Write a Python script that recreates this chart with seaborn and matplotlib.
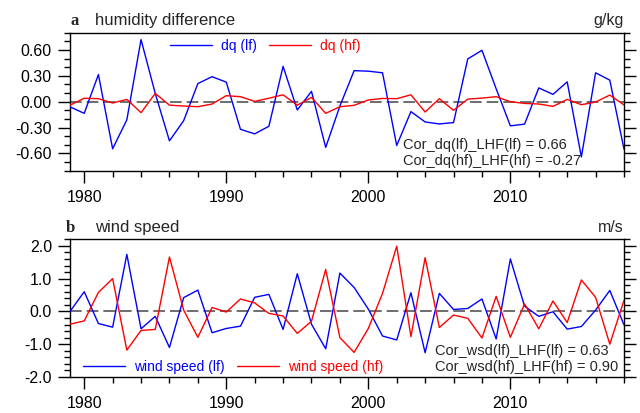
import matplotlib
matplotlib.use("Agg")
import matplotlib.pyplot as plt
import seaborn as sns
import pandas as pd
from matplotlib.ticker import MultipleLocator, FixedLocator

years = list(range(1979, 2019))

dq_lf = [-0.06, -0.135, 0.315, -0.546, -0.21, 0.72, 0.096, -0.454, -0.22, 0.21,
         0.29, 0.227, -0.32, -0.373, -0.285, 0.41, -0.096, 0.12, -0.53, -0.05,
         0.36, 0.354, 0.335, -0.508, -0.115, -0.235, -0.258, -0.242, 0.496, 0.596,
         0.15, -0.28, -0.26, 0.16, 0.085, 0.23, -0.64, 0.335, 0.25, -0.55]
dq_hf = [-0.04, 0.04, 0.035, -0.015, 0.027, -0.127, 0.096, -0.04, -0.05, -0.058,
         -0.027, 0.07, 0.058, 0.004, 0.04, 0.08, -0.04, 0.05, -0.135, -0.058,
         -0.042, 0.02, 0.038, 0.035, 0.08, -0.12, 0.035, -0.1, 0.03, 0.042,
         0.058, 0.0, -0.02, -0.027, -0.054, 0.027, -0.035, -0.004, 0.077, -0.038]
wsd_lf = [0.0, 0.6, -0.37, -0.48, 1.74, -0.53, -0.15, -1.10, 0.42, 0.65,
          -0.65, -0.52, -0.45, 0.43, 0.52, -0.55, 1.15, -0.39, -1.14, 1.17,
          0.73, 0.07, -0.75, -0.87, 0.57, -1.26, 0.55, 0.06, 0.09, 0.38,
          -0.84, 1.6, 0.16, -0.15, -0.01, -0.54, -0.46, 0.04, 0.64, -0.41]
wsd_hf = [-0.39, -0.29, 0.58, 1.0, -1.18, -0.58, -0.55, 1.66, 0.04, -0.79,
          0.12, -0.02, 0.38, 0.26, -0.06, -0.14, -0.67, -0.30, 1.28, -0.80,
          -1.25, -0.52, 0.55, 1.99, -0.77, 1.64, -0.49, -0.11, -0.21, -0.81,
          0.46, -0.79, 0.23, -0.53, 0.32, -0.34, 0.96, 0.43, -1.0, 0.34]

top_labels = ["dq (lf)", "dq (hf)"]
bot_labels = ["wind speed (lf)", "wind speed (hf)"]
top_cor = ["Cor_dq(lf)_LHF(lf) = 0.66", "Cor_dq(hf)_LHF(hf) = -0.27"]
bot_cor = ["Cor_wsd(lf)_LHF(lf) = 0.63", "Cor_wsd(hf)_LHF(hf) = 0.90"]
top_yticks = [-0.6, -0.3, 0.0, 0.3, 0.6]
top_yticklabels = ["-0.60", "-0.30", "0.00", "0.30", "0.60"]
bot_yticks = [-2.0, -1.0, 0.0, 1.0, 2.0]
bot_yticklabels = ["-2.0", "-1.0", "0.0", "1.0", "2.0"]
xticks = [1980, 1990, 2000, 2010]

sns.set_style("ticks")
plt.rcParams['font.family'] = ['Liberation Sans', 'DejaVu Sans']

BLUE = "#0000ff"
RED = "#ff0000"

fig = plt.figure(figsize=(6.4, 4.13), dpi=100)
ax1 = fig.add_axes([0.1094, 0.5867, 0.8656, 0.3341])
ax2 = fig.add_axes([0.1094, 0.0872, 0.8656, 0.3334])

df_top = pd.DataFrame({"year": years * 2,
                       "val": dq_lf + dq_hf,
                       "series": [top_labels[0]] * len(years) + [top_labels[1]] * len(years)})
df_bot = pd.DataFrame({"year": years * 2,
                       "val": wsd_lf + wsd_hf,
                       "series": [bot_labels[0]] * len(years) + [bot_labels[1]] * len(years)})

def style_axis(ax, ylim, yticks, yticklabels, yminor):
    ax.set_xlim(1979, 2018)
    ax.set_ylim(*ylim)
    ax.axhline(0, color="#555555", lw=1.2, ls=(0, (7, 3)), zorder=1)
    ax.xaxis.set_major_locator(FixedLocator(xticks))
    ax.xaxis.set_minor_locator(MultipleLocator(2))
    ax.set_yticks(yticks)
    ax.set_yticklabels(yticklabels)
    ax.yaxis.set_minor_locator(MultipleLocator(yminor))
    ax.tick_params(axis="both", which="both", direction="out", top=False,
                   right=True, labelright=False, colors="black", width=1.0)
    ax.tick_params(axis="both", which="major", length=8.5, labelsize=11.5)
    ax.tick_params(axis="x", which="major", pad=5.5)
    ax.tick_params(axis="y", which="major", pad=4.5)
    ax.tick_params(axis="both", which="minor", length=4.5)
    for s in ax.spines.values():
        s.set_visible(True)
        s.set_linewidth(1.0)
        s.set_color("black")
    ax.set_xlabel("")
    ax.set_ylabel("")

sns.lineplot(data=df_top, x="year", y="val", hue="series",
             palette=[BLUE, RED], lw=1.0, ax=ax1, legend=False, zorder=3)
sns.lineplot(data=df_bot, x="year", y="val", hue="series",
             palette=[BLUE, RED], lw=1.0, ax=ax2, legend=False, zorder=3)

style_axis(ax1, (-0.8, 0.8), top_yticks, top_yticklabels, 0.1)
style_axis(ax2, (-2.0, 2.2), bot_yticks, bot_yticklabels, 0.2)

from matplotlib.lines import Line2D

def add_legend(ax, labels, anchor):
    handles = [Line2D([], [], color=BLUE, lw=1.0), Line2D([], [], color=RED, lw=1.0)]
    leg = ax.legend(handles, labels, loc="center left", bbox_to_anchor=anchor,
                    ncol=2, frameon=False, fontsize=10, handlelength=3.0,
                    handletextpad=0.7, columnspacing=0.85, borderpad=0,
                    borderaxespad=0)
    for t, c in zip(leg.get_texts(), [BLUE, RED]):
        t.set_color(c)

add_legend(ax1, top_labels, (0.1805, 0.906))
add_legend(ax2, bot_labels, (0.0235, 0.075))

ax1.text(0.601, 0.186, top_cor[0], transform=ax1.transAxes, fontsize=10.5, va="center", ha="left")
ax1.text(0.601, 0.072, top_cor[1], transform=ax1.transAxes, fontsize=10.5, va="center", ha="left")
ax2.text(0.659, 0.191, bot_cor[0], transform=ax2.transAxes, fontsize=10.5, va="center", ha="left")
ax2.text(0.659, 0.075, bot_cor[1], transform=ax2.transAxes, fontsize=10.5, va="center", ha="left")

def add_title(ax, letter, title, unit, letter_x, h):
    y = 1 + 7.5 / h
    ax.text(letter_x, y, letter, transform=ax.transAxes, fontsize=12,
            fontweight="bold", family=["Liberation Serif"], va="baseline", ha="left")
    ax.text(0.045, y, title, transform=ax.transAxes, fontsize=12,
            va="baseline", ha="left")
    ax.text(1.0, y, unit, transform=ax.transAxes, fontsize=11.5,
            va="baseline", ha="right")

add_title(ax1, "a", "humidity difference", "g/kg", 0.0, 138)
add_title(ax2, "b", "wind speed", "m/s", -0.007, 137.7)

fig.savefig("out.png", dpi=100)
